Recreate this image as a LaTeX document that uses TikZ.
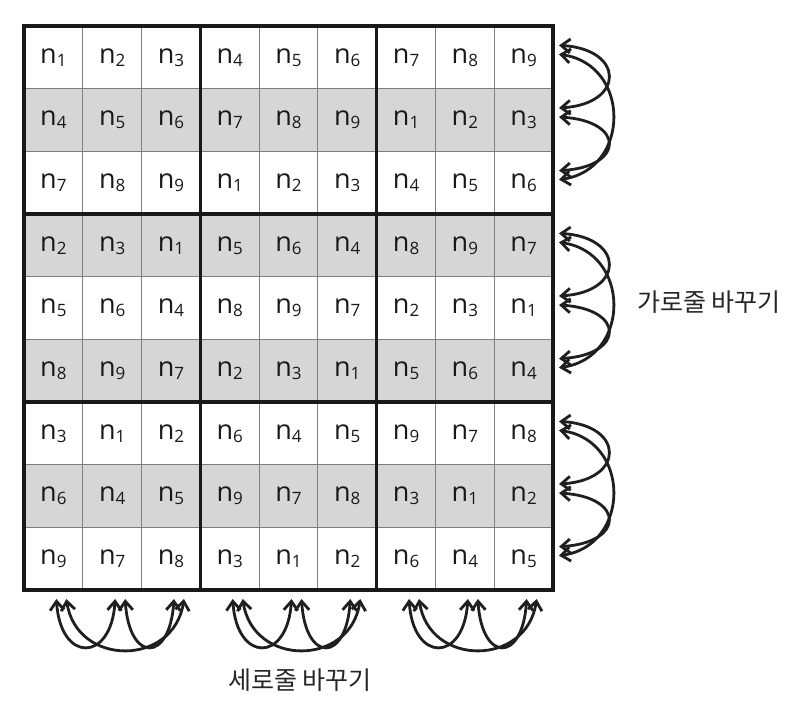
\documentclass[tikz,border=0pt]{standalone}
\usepackage{fontspec}
\setmainfont{Open Sans}
\newfontfamily\krfont{Noto Sans CJK KR}
\usetikzlibrary{arrows.meta}

\begin{document}
\begin{tikzpicture}[x=1pt,y=1pt,
    cell/.style={inner sep=0pt, font=\fontsize{27}{27}\selectfont, text=black!90},
    thin line/.style={draw=black!50, line width=1pt},
    block line/.style={draw=black!90, line width=3.2pt},
    swap/.style={{Straight Barb[length=9pt,width=14pt]}-{Straight Barb[length=9pt,width=14pt]}, line width=2.8pt, draw=black!88},
    swaplabel/.style={font=\krfont\fontsize{25}{28}\selectfont, text=black!85}]
    \useasboundingbox (0,0) rectangle (808,710);

    % Shaded rows
    \foreach \r in {2,4,6,8}
        \fill[black!16] (24,{684-(\r-1)*62.67}) rectangle (553,{684-\r*62.67});

    % Thin grid lines
    \foreach \i in {1,...,8} {
        \draw[thin line] ({24+\i*58.78},120) -- ({24+\i*58.78},684);
        \draw[thin line] (24,{684-\i*62.67}) -- (553,{684-\i*62.67});
    }

    % Block borders
    \draw[block line] (24,120) rectangle (553,684);
    \foreach \i in {3,6} {
        \draw[block line] ({24+\i*58.78},120) -- ({24+\i*58.78},684);
        \draw[block line] (24,{684-\i*62.67}) -- (553,{684-\i*62.67});
    }

    % Cell entries
    \foreach \r/\vals in {1/{1,2,3,4,5,6,7,8,9}, 2/{4,5,6,7,8,9,1,2,3}, 3/{7,8,9,1,2,3,4,5,6},
                          4/{2,3,1,5,6,4,8,9,7}, 5/{5,6,4,8,9,7,2,3,1}, 6/{8,9,7,2,3,1,5,6,4},
                          7/{3,1,2,6,4,5,9,7,8}, 8/{6,4,5,9,7,8,3,1,2}, 9/{9,7,8,3,1,2,6,4,5}} {
        \foreach \v [count=\c] in \vals
            \node[cell] (n\r-\c) at ({24+(\c-0.5)*58.78},{684-(\r-0.5)*62.67})
                {n\raisebox{-3pt}{\fontsize{17}{17}\selectfont\v}};
    }

    % Arrow ends beside rows and below columns
    \foreach \i in {1,...,9} {
        \coordinate (ru\i) at (559,{684-(\i-0.5)*62.67+12});
        \coordinate (rl\i) at (559,{684-(\i-0.5)*62.67+3});
        \coordinate (bl\i) at ({24+(\i-0.5)*58.78+3},111);
        \coordinate (br\i) at ({24+(\i-0.5)*58.78+13},111);
    }

    % Row swaps
    \foreach \k in {0,1,2} {
        \pgfmathtruncatemacro\ta{3*\k+1}
        \pgfmathtruncatemacro\tb{3*\k+2}
        \pgfmathtruncatemacro\tc{3*\k+3}
        \draw[swap] (ru\ta) .. controls +(66,-4) and +(66,4) .. (ru\tb);
        \draw[swap] (rl\ta) .. controls +(72,-10) and +(72,10) .. (rl\tc);
        \draw[swap] (rl\tb) .. controls +(66,-4) and +(66,4) .. (ru\tc);
    }

    % Column swaps
    \foreach \k in {0,1,2} {
        \pgfmathtruncatemacro\ta{3*\k+1}
        \pgfmathtruncatemacro\tb{3*\k+2}
        \pgfmathtruncatemacro\tc{3*\k+3}
        \draw[swap] (bl\ta) .. controls +(4,-64) and +(-4,-64) .. (bl\tb);
        \draw[swap] (br\ta) .. controls +(10,-68) and +(-10,-68) .. (br\tc);
        \draw[swap] (br\tb) .. controls +(4,-64) and +(-4,-64) .. (bl\tc);
    }

    % Labels
    \node[swaplabel] (rowswap) at (709,408) {가로줄 바꾸기};
    \node[swaplabel] (colswap) at (300,30) {세로줄 바꾸기};
\end{tikzpicture}
\end{document}
